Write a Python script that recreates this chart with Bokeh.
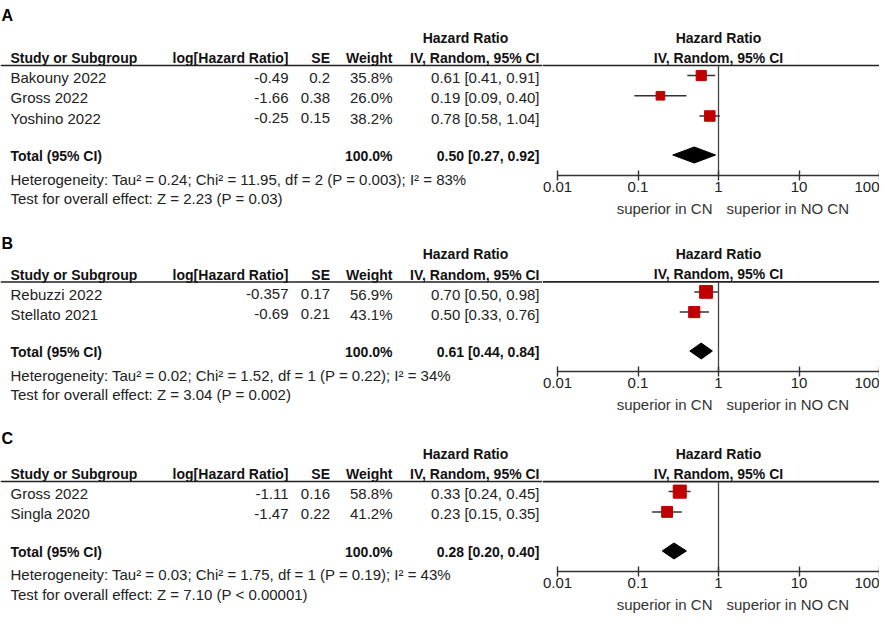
import math
from bokeh.plotting import figure
from bokeh.models import (Range1d, LogScale, LogAxis, FixedTicker,
                          CustomJSTickFormatter, ColumnDataSource)
from bokeh.layouts import column, row
from bokeh.core.properties import value
from bokeh.embed import file_html
from bokeh.resources import INLINE

# ---------------- data ----------------
TICKS = [0.01, 0.1, 1, 10, 100]
LEFT_LABEL = "superior in CN"
RIGHT_LABEL = "superior in NO CN"

A_studies = ["Bakouny 2022", "Gross 2022", "Yoshino 2022"]
A_loghr = [-0.49, -1.66, -0.25]
A_se = [0.2, 0.38, 0.15]
A_weight = [35.8, 26.0, 38.2]
A_hr = [0.61, 0.19, 0.78]
A_lo = [0.41, 0.09, 0.58]
A_hi = [0.91, 0.40, 1.04]
A_total = [0.50, 0.27, 0.92]
A_het = "Heterogeneity: Tau\u00b2 = 0.24; Chi\u00b2 = 11.95, df = 2 (P = 0.003); I\u00b2 = 83%"
A_test = "Test for overall effect: Z = 2.23 (P = 0.03)"

B_studies = ["Rebuzzi 2022", "Stellato 2021"]
B_loghr = [-0.357, -0.69]
B_se = [0.17, 0.21]
B_weight = [56.9, 43.1]
B_hr = [0.70, 0.50]
B_lo = [0.50, 0.33]
B_hi = [0.98, 0.76]
B_total = [0.61, 0.44, 0.84]
B_het = "Heterogeneity: Tau\u00b2 = 0.02; Chi\u00b2 = 1.52, df = 1 (P = 0.22); I\u00b2 = 34%"
B_test = "Test for overall effect: Z = 3.04 (P = 0.002)"

C_studies = ["Gross 2022", "Singla 2020"]
C_loghr = [-1.11, -1.47]
C_se = [0.16, 0.22]
C_weight = [58.8, 41.2]
C_hr = [0.33, 0.23]
C_lo = [0.24, 0.15]
C_hi = [0.45, 0.35]
C_total = [0.28, 0.20, 0.40]
C_het = "Heterogeneity: Tau\u00b2 = 0.03; Chi\u00b2 = 1.75, df = 1 (P = 0.19); I\u00b2 = 43%"
C_test = "Test for overall effect: Z = 7.10 (P < 0.00001)"

# ---------------- style ----------------
FONT = "Liberation Sans"
FS = "15px"      # regular text
FSB = "14px"     # bold header text
TXT = "#222222"
BOLD = "#111111"
RED = "#c00000"
TW = 542         # table figure width
FW = 337         # forest figure width
X0_PX = 15.0     # pixel (inside forest) of HR = 0.01
DEC = 80.5       # pixels per decade
AXB = 24         # space under forest axis for tick labels

X_STUDY, X_LOG, X_SE, X_WT, X_CI, X_HRHEAD = 10, 288, 329.5, 392, 539, 465

HR_LO = 10 ** (-2 - X0_PX / DEC)
HR_HI = 10 ** (-2 + (FW - X0_PX) / DEC)


def base(width, height, y0, y1):
    p = figure(width=width, height=height, y_range=Range1d(y0, y1),
               x_axis_type=None, y_axis_type=None, output_backend="svg",
               toolbar_location=None, min_border=0)
    p.min_border_left = 0
    p.min_border_right = 0
    p.min_border_top = 0
    p.min_border_bottom = 0
    p.outline_line_color = None
    p.background_fill_color = "white"
    p.border_fill_color = "white"
    return p


def txt(p, x, y, t, align, bold=False, size=None, color=None, baseline="middle"):
    p.text(x=x, y=y, text=t, text_font=value(FONT),
           text_font_size=size or (FSB if bold else FS),
           text_align=align, text_baseline=baseline,
           text_font_style="bold" if bold else "normal",
           text_color=color or (BOLD if bold else TXT))


def panel(letter, letter_y, H, L, studies, loghr, se, weight, hr, lo, hi, total, het, test):
    n = len(studies)
    rows = [L + 10 + 20.25 * i for i in range(n)]
    ytot = rows[-1] + 39
    axis_y = ytot + 20.5
    het_y = ytot + 24
    test_y = het_y + 19.5
    sup_y = axis_y + 33
    ty = [r + 2 for r in rows]

    # ---------- table ----------
    t = base(TW, H, H, 0)
    t.x_range = Range1d(0, TW)
    txt(t, [1], [letter_y], [letter], "left", bold=True, size="16px", color="black")
    txt(t, [X_HRHEAD], [L - 28], ["Hazard Ratio"], "center", bold=True)
    hy = L - 7.5
    txt(t, [X_STUDY], [hy], ["Study or Subgroup"], "left", bold=True)
    txt(t, [X_LOG], [hy], ["log[Hazard Ratio]"], "right", bold=True)
    txt(t, [X_SE], [hy], ["SE"], "right", bold=True)
    txt(t, [X_WT], [hy], ["Weight"], "right", bold=True)
    txt(t, [X_CI], [hy], ["IV, Random, 95% CI"], "right", bold=True)
    t.segment(x0=[0], y0=[L], x1=[TW], y1=[L], line_color="#222222", line_width=1.6)

    txt(t, [X_STUDY] * n, ty, studies, "left")
    txt(t, [X_LOG] * n, ty, [str(v) for v in loghr], "right")
    txt(t, [X_SE] * n, ty, [str(v) for v in se], "right")
    txt(t, [X_WT] * n, ty, ["%.1f%%" % w for w in weight], "right")
    txt(t, [X_CI] * n, ty, ["%.2f [%.2f, %.2f]" % (a, b, c) for a, b, c in zip(hr, lo, hi)], "right")

    tty = ytot + 1
    txt(t, [X_STUDY], [tty], ["Total (95% CI)"], "left", bold=True)
    txt(t, [X_WT], [tty], ["%.1f%%" % sum(weight)], "right", bold=True)
    txt(t, [X_CI], [tty], ["%.2f [%.2f, %.2f]" % tuple(total)], "right", bold=True)
    txt(t, [X_STUDY, X_STUDY], [het_y, test_y], [het, test], "left")

    # ---------- forest (top, with axis) ----------
    FT = int(round(axis_y)) + AXB
    f = base(FW, FT, axis_y, 0)
    f.x_range = Range1d(HR_LO, HR_HI)
    f.x_scale = LogScale()
    f.min_border_bottom = AXB

    f.text(x=[1, 1], y=[L - 28, L - 7.5], text=["Hazard Ratio", "IV, Random, 95% CI"],
           text_font=value(FONT), text_font_size=FSB, text_align="center",
           text_baseline="middle", text_font_style="bold", text_color=BOLD)
    f.segment(x0=[HR_LO], y0=[L], x1=[HR_HI], y1=[L], line_color="#222222", line_width=1.6)
    f.segment(x0=[1], y0=[L], x1=[1], y1=[axis_y], line_color="#444444", line_width=1.3)

    src = ColumnDataSource(dict(hr=hr, lo=lo, hi=hi, y=rows,
                                size=[1.7 * math.sqrt(w) for w in weight]))
    f.segment(x0="lo", y0="y", x1="hi", y1="y", source=src,
              line_color="#333333", line_width=1.5)
    f.scatter(x="hr", y="y", size="size", source=src, marker="square",
              fill_color=RED, line_color=RED, line_width=1)
    est, dlo, dhi = total
    f.patch(x=[dlo, est, dhi, est], y=[ytot, ytot - 8, ytot, ytot + 8],
            fill_color="black", line_color="black")

    ax = LogAxis(bounds=(TICKS[0], TICKS[-1]), ticker=FixedTicker(ticks=TICKS),
                 formatter=CustomJSTickFormatter(code="return tick.toString();"))
    ax.axis_line_color = "#333333"
    ax.axis_line_width = 1.4
    ax.major_tick_line_color = "#333333"
    ax.major_tick_line_width = 1.4
    ax.major_tick_in = 5
    ax.major_tick_out = 5
    ax.minor_tick_line_color = None
    ax.major_label_standoff = 1
    ax.major_label_text_font = FONT
    ax.major_label_text_font_size = FS
    ax.major_label_text_color = TXT
    f.add_layout(ax, "below")

    # ---------- forest (bottom, direction labels) ----------
    g = base(FW, H - FT, H, FT)
    g.x_range = f.x_range
    g.x_scale = LogScale()
    g.text(x=[1], y=[sup_y], text=[LEFT_LABEL], x_offset=-6, text_font=value(FONT),
           text_font_size=FS, text_align="right", text_baseline="middle", text_color="#333333")
    g.text(x=[1], y=[sup_y], text=[RIGHT_LABEL], x_offset=8, text_font=value(FONT),
           text_font_size=FS, text_align="left", text_baseline="middle", text_color="#333333")

    return row(t, column(f, g, spacing=0), spacing=0)


pA = panel("A", 15, 225, 65, A_studies, A_loghr, A_se, A_weight, A_hr, A_lo, A_hi,
           A_total, A_het, A_test)
pB = panel("B", 18, 203, 56.5, B_studies, B_loghr, B_se, B_weight, B_hr, B_lo, B_hi,
           B_total, B_het, B_test)
pC = panel("C", 10, 185, 53, C_studies, C_loghr, C_se, C_weight, C_hr, C_lo, C_hi,
           C_total, C_het, C_test)

layout = column(pA, pB, pC, spacing=0)
open("out.html", "w").write(file_html(layout, INLINE))
